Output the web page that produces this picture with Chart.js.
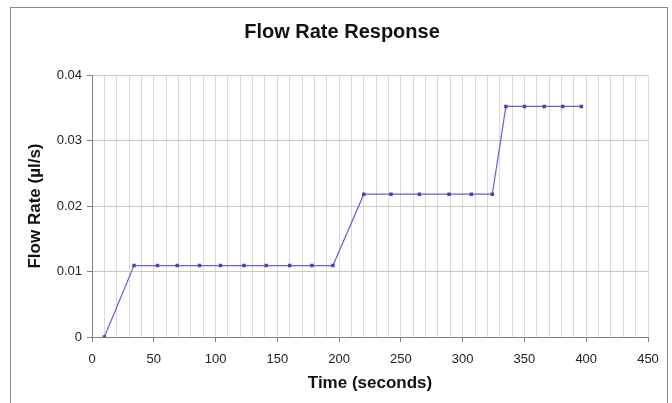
<!DOCTYPE html>
<html>
<head>
<meta charset="utf-8">
<script src="https://cdn.jsdelivr.net/npm/chart.js@4"></script>
<style>
  html, body { margin: 0; padding: 0; background: #fff; }
  canvas { display: block; }
</style>
</head>
<body>
<canvas id="flowChart" width="672" height="403"></canvas>
<script>
  const chartTitle = 'Flow Rate Response';
  const times = [10, 34, 53, 69, 87, 104, 123, 141, 160, 178, 195, 220, 242, 265, 289, 307, 324, 335, 350, 366, 381, 396];
  const flowRates = [0, 0.0109, 0.0109, 0.0109, 0.0109, 0.0109, 0.0109, 0.0109, 0.0109, 0.0109, 0.0109,
    0.0218, 0.0218, 0.0218, 0.0218, 0.0218, 0.0218, 0.0352, 0.0352, 0.0352, 0.0352, 0.0352];
  const xTickLabels = [0, 50, 100, 150, 200, 250, 300, 350, 400, 450];
  const yTickLabels = ['0', '0.01', '0.02', '0.03', '0.04'];

  const points = times.map((t, i) => ({ x: t, y: flowRates[i] }));
  const font = 'Liberation Sans, Arial, sans-serif';

  // outer frame + title, centred on the frame like the excel chart
  const framePlugin = {
    id: 'frame',
    beforeDraw(chart) {
      const ctx = chart.ctx;
      ctx.save();
      ctx.fillStyle = '#fff';
      ctx.fillRect(0, 0, chart.width, chart.height);
      ctx.strokeStyle = '#8a8a8a';
      ctx.lineWidth = 1;
      ctx.strokeRect(10.5, 7.5, 657, 500);
      ctx.fillStyle = '#111';
      ctx.font = 'bold 20px ' + font;
      ctx.textAlign = 'center';
      ctx.textBaseline = 'middle';
      ctx.fillText(chartTitle, 342, 32);
      ctx.restore();
    }
  };

  new Chart(document.getElementById('flowChart').getContext('2d'), {
    type: 'scatter',
    data: {
      datasets: [{
        label: 'Flow Rate',
        data: points,
        showLine: true,
        borderColor: '#6262d8',
        borderWidth: 1.2,
        backgroundColor: '#4545b5',
        pointBorderColor: '#4545b5',
        pointStyle: 'rect',
        pointRadius: 1.6,
        tension: 0
      }]
    },
    options: {
      responsive: false,
      devicePixelRatio: 1,
      animation: false,
      layout: { padding: { left: 0, right: 24, top: 75, bottom: 0 } },
      plugins: {
        legend: { display: false },
        tooltip: { enabled: false },
        title: { display: false }
      },
      scales: {
        x: {
          type: 'linear',
          min: 0,
          max: 450,
          afterFit: s => { s.height = 66; },
          border: { color: '#808080', width: 1 },
          grid: {
            color: '#d9d9d9',
            tickLength: 5,
            tickColor: c => (c.tick && c.tick.value % 50 === 0) ? '#808080' : 'rgba(0,0,0,0)'
          },
          ticks: {
            stepSize: 10,
            autoSkip: false,
            maxRotation: 0,
            padding: 10,
            color: '#222',
            font: { family: font, size: 13 },
            callback: v => xTickLabels.includes(v) ? String(v) : ''
          },
          title: {
            display: true,
            text: 'Time (seconds)',
            color: '#111',
            font: { family: font, size: 17, weight: 'bold' },
            padding: { top: 0, bottom: 9 }
          }
        },
        y: {
          min: 0,
          max: 0.04,
          afterFit: s => { s.width = 92; },
          border: { color: '#808080', width: 1 },
          grid: { color: '#c8c8c8', tickLength: 5, tickColor: '#808080' },
          ticks: {
            stepSize: 0.01,
            padding: 5,
            color: '#222',
            font: { family: font, size: 13 },
            callback: (v, i) => yTickLabels[i]
          },
          title: {
            display: true,
            text: 'Flow Rate (µl/s)',
            color: '#111',
            font: { family: font, size: 17, weight: 'bold' },
            padding: { top: 25, bottom: 0 }
          }
        }
      }
    },
    plugins: [framePlugin]
  });
</script>
</body>
</html>
